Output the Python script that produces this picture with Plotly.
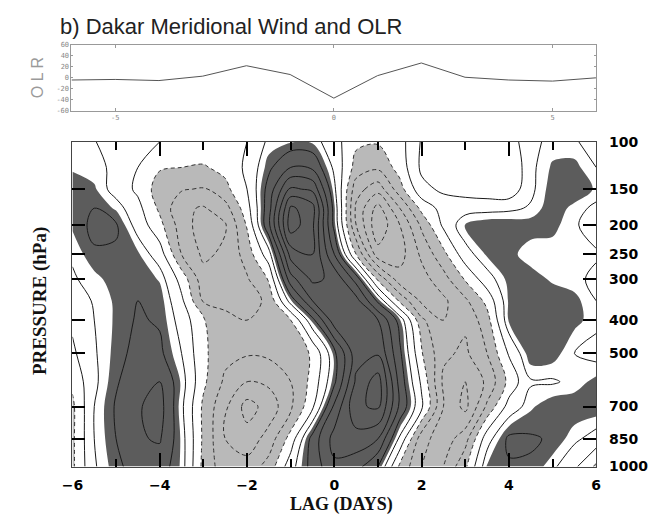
import plotly.graph_objects as go

# Lag (days) of the composite grid and pressure levels (hPa)
LAG_DAYS = [-6.0, -5.5, -5.0, -4.5, -4.0, -3.5, -3.0, -2.5, -2.0, -1.5, -1.0, -0.5,
            0.0, 0.5, 1.0, 1.5, 2.0, 2.5, 3.0, 3.5, 4.0, 4.5, 5.0, 5.5, 6.0]
PRESSURE_HPA = [100, 125, 150, 175, 200, 250, 300, 350, 400, 500, 600, 700, 850, 1000]

# Meridional wind anomaly (m/s) at each pressure level, one value per lag
V_100 = [0.6, 0.52, 0.3, 0.1, 0.0, -0.2, -0.15, -0.3, 0.0, 0.6, 0.72, 0.7, 0.2, -0.4, -0.45, -0.2, 0.55, 0.62, 0.62, 0.62, 0.58, 0.4, 0.6, 0.55, 0.3]
V_125 = [0.7, 0.6, 0.42, 0.0, -0.45, -0.5, -0.55, -0.35, 0.1, 0.9, 1.5, 1.4, 0.4, -0.7, -0.9, -0.3, 0.6, 0.68, 0.7, 0.7, 0.65, 0.4, 0.8, 0.85, 0.5]
V_150 = [0.95, 0.8, 0.3, -0.1, -0.75, -0.95, -1.05, -0.65, 0.0, 1.2, 2.6, 2.4, 0.6, -1.3, -1.8, -0.7, 0.35, 0.6, 0.65, 0.65, 0.6, 0.4, 0.9, 1.0, 0.7]
V_175 = [0.95, 1.0, 0.7, 0.15, -0.6, -1.4, -1.55, -1.2, -0.2, 1.3, 3.6, 3.2, 0.8, -1.6, -2.7, -1.5, -0.35, 0.2, 0.3, 0.35, 0.4, 0.55, 0.95, 0.65, 0.4]
V_200 = [0.8, 1.1, 1.05, 0.3, -0.35, -1.25, -1.75, -1.55, -0.45, 1.4, 3.8, 3.1, 0.85, -1.5, -2.9, -2.0, -0.9, 0.1, 0.8, 0.95, 0.95, 0.9, 0.85, 0.55, 0.3]
V_250 = [0.55, 0.95, 0.95, 0.8, 0.25, -1.0, -1.6, -1.4, -0.8, 0.3, 2.7, 3.0, 1.5, -0.5, -2.3, -2.2, -1.4, -0.65, 0.3, 0.8, 0.85, 0.6, 0.6, 0.55, 0.55]
V_300 = [0.45, 0.65, 0.9, 0.95, 0.72, -0.2, -1.3, -1.2, -1.05, -0.45, 1.8, 2.6, 2.4, 1.3, -0.6, -1.8, -1.7, -1.2, -0.45, 0.3, 0.85, 0.9, 0.7, 0.6, 0.4]
V_350 = [0.2, 0.55, 0.8, 1.0, 0.9, 0.1, -1.05, -1.1, -1.2, -0.9, 0.7, 2.0, 2.4, 2.2, 0.9, -0.6, -1.6, -1.6, -1.1, -0.35, 0.8, 0.95, 0.95, 0.85, 0.5]
V_400 = [0.1, 0.5, 0.8, 1.05, 0.95, 0.3, -0.45, -0.9, -1.0, -0.9, -0.5, 0.85, 2.3, 2.4, 2.0, 0.8, -0.9, -1.5, -1.4, -0.7, 0.8, 1.0, 1.0, 0.85, 0.6]
V_500 = [-0.1, 0.45, 0.85, 1.15, 1.1, 0.5, -0.4, -0.85, -0.95, -0.9, -0.75, -0.45, 0.85, 2.3, 2.45, 1.1, -0.45, -1.4, -1.6, -1.0, 0.05, 0.95, 0.9, 0.5, 0.35]
V_600 = [-0.4, 0.4, 0.95, 1.3, 1.5, 0.7, -0.4, -1.1, -1.5, -1.4, -1.0, -0.35, 0.9, 2.6, 3.25, 1.3, -0.1, -1.6, -2.0, -1.4, -0.35, 0.45, 0.45, 0.6, 0.85]
V_700 = [-0.6, 0.5, 1.05, 1.45, 1.7, 0.6, -0.6, -1.4, -2.2, -1.8, -1.1, -0.1, 1.6, 2.9, 3.1, 1.4, 0.1, -1.5, -2.15, -0.9, 0.2, 0.7, 0.95, 0.95, 0.95]
V_850 = [-0.6, 0.5, 1.0, 1.45, 1.55, 0.7, -0.6, -1.5, -1.8, -1.3, -0.3, 1.2, 2.2, 2.3, 2.0, 0.4, -1.3, -1.8, -1.2, 0.3, 1.1, 1.05, 0.95, 0.6, 0.3]
V_1000 = [-0.6, 0.45, 0.9, 1.2, 1.25, 0.7, -0.65, -1.3, -1.3, -0.8, 0.3, 1.2, 1.9, 1.7, 1.0, -0.6, -1.5, -1.5, -0.6, 0.8, 0.95, 0.95, 0.6, 0.1, -0.6]

PRESSURE_TICKS = [100, 150, 200, 250, 300, 400, 500, 700, 850, 1000]

# OLR composite (W/m2) at daily lags
OLR_LAG = [-6, -5, -4, -3, -2, -1, 0, 1, 2, 3, 4, 5, 6]
OLR_VALUES = [-4, -3, -5, 3, 22, 6, -37, 4, 27, 1, -4, -6, 0]
OLR_TICKS = [-60, -40, -20, 0, 20, 40, 60]
OLR_LAG_TICKS = [-5, 0, 5]

WIND = [V_100, V_125, V_150, V_175, V_200, V_250, V_300, V_350,
        V_400, V_500, V_600, V_700, V_850, V_1000]

# shading thresholds and contour interval
SHADE_POS = 0.75
SHADE_NEG = -0.5
CINT = 0.5

DARK = "#5c5c5c"
LIGHT = "#b9b9b9"
W, H = 650, 525


def height_coord(p):
    """Vertical coordinate roughly proportional to standard-atmosphere height."""
    return -(p ** 0.19)


def fx(px):
    return px / W


def fy(py):
    return 1 - py / H


ycoord = [height_coord(p) for p in PRESSURE_HPA]
common = dict(x=LAG_DAYS, y=ycoord, z=WIND, showscale=False,
              hoverinfo="skip", xaxis="x", yaxis="y")

fig = go.Figure()

# shaded areas: a constraint contour paints the side that fails the test,
# so "<" shades values above the threshold and ">" shades values below it
fig.add_trace(go.Contour(**common,
                         contours=dict(type="constraint", operation="<", value=SHADE_POS),
                         fillcolor=DARK, line=dict(width=0, smoothing=1.0)))
fig.add_trace(go.Contour(**common,
                         contours=dict(type="constraint", operation=">", value=SHADE_NEG),
                         fillcolor=LIGHT, line=dict(width=0, smoothing=1.0)))

# solid contours for zero and positive values, dashed for negative
fig.add_trace(go.Contour(**common, autocontour=False,
                         contours=dict(coloring="lines", start=0, end=4.0, size=CINT),
                         colorscale=[[0, "#1a1a1a"], [1, "#1a1a1a"]],
                         line=dict(width=1, smoothing=1.0)))
fig.add_trace(go.Contour(**common, autocontour=False,
                         contours=dict(coloring="lines", start=-3.0, end=-CINT, size=CINT),
                         colorscale=[[0, "#333333"], [1, "#333333"]],
                         line=dict(width=1, dash="4px,3px", smoothing=1.0)))

# OLR time series
fig.add_trace(go.Scatter(x=OLR_LAG, y=OLR_VALUES, mode="lines",
                         line=dict(color="#555555", width=1),
                         hoverinfo="skip", xaxis="x2", yaxis="y2"))

fig.update_layout(
    width=W, height=H,
    margin=dict(l=0, r=0, t=0, b=0),
    paper_bgcolor="white", plot_bgcolor="white",
    showlegend=False,
    xaxis=dict(
        domain=[fx(63), fx(600)], anchor="y", range=[-6, 6],
        tickmode="linear", tick0=-6, dtick=2,
        ticks="inside", ticklen=14, tickwidth=2, tickcolor="black",
        minor=dict(ticks="inside", ticklen=8, tickwidth=1.5, tickcolor="black",
                   dtick=1, tick0=-6),
        mirror="ticks", showline=True, linecolor="#444444", linewidth=1,
        showgrid=False, zeroline=False, ticklabelstandoff=6,
        tickfont=dict(family="DejaVu Sans", size=14, color="black", weight="bold"),
    ),
    yaxis=dict(
        domain=[fy(473), fy(138)], anchor="x",
        range=[height_coord(1000), height_coord(100)],
        tickmode="array", tickvals=[height_coord(p) for p in PRESSURE_TICKS],
        ticktext=[str(p) for p in PRESSURE_TICKS], side="right",
        ticks="inside", ticklen=13, tickwidth=2, tickcolor="black",
        mirror="ticks", showline=True, linecolor="#444444", linewidth=1,
        showgrid=False, zeroline=False, ticklabelstandoff=9,
        tickfont=dict(family="DejaVu Sans", size=14, color="black", weight="bold"),
    ),
    xaxis2=dict(
        domain=[fx(62), fx(600)], anchor="y2", range=[-6, 6],
        tickmode="array", tickvals=OLR_LAG_TICKS,
        ticktext=[str(v) for v in OLR_LAG_TICKS],
        ticks="inside", ticklen=3, tickcolor="#999999",
        mirror="ticks", showline=True, linecolor="#999999", linewidth=1,
        showgrid=False, zeroline=False,
        tickfont=dict(family="DejaVu Sans Mono", size=7, color="#888888"),
    ),
    yaxis2=dict(
        domain=[fy(106), fy(38)], anchor="x2", range=[-60, 60],
        tickmode="array", tickvals=OLR_TICKS, ticktext=[str(v) for v in OLR_TICKS],
        ticks="inside", ticklen=2, tickcolor="#999999",
        mirror="ticks", showline=True, linecolor="#999999", linewidth=1,
        showgrid=False, zeroline=False,
        tickfont=dict(family="DejaVu Sans Mono", size=7, color="#888888"),
    ),
    annotations=[
        dict(text="b) Dakar Meridional Wind and OLR", x=fx(48), y=fy(19),
             xref="paper", yref="paper", xanchor="left", yanchor="middle",
             showarrow=False,
             font=dict(family="Liberation Sans", size=22, color="#222222")),
        dict(text="O L R", x=fx(27), y=fy(72), xref="paper", yref="paper",
             textangle=-90, showarrow=False, xanchor="center", yanchor="middle",
             font=dict(family="Liberation Sans", size=16, color="#9a9a9a")),
        dict(text="LAG (DAYS)", x=fx(339), y=fy(512), xref="paper", yref="paper",
             showarrow=False, xanchor="center", yanchor="middle",
             font=dict(family="Liberation Serif", size=18, color="#111111", weight="bold")),
        dict(text="PRESSURE (hPa)", x=fx(30), y=fy(302), xref="paper", yref="paper",
             textangle=-90, showarrow=False, xanchor="center", yanchor="middle",
             font=dict(family="Liberation Serif", size=19, color="#111111", weight="bold")),
    ],
)

fig.write_html("out.html")
